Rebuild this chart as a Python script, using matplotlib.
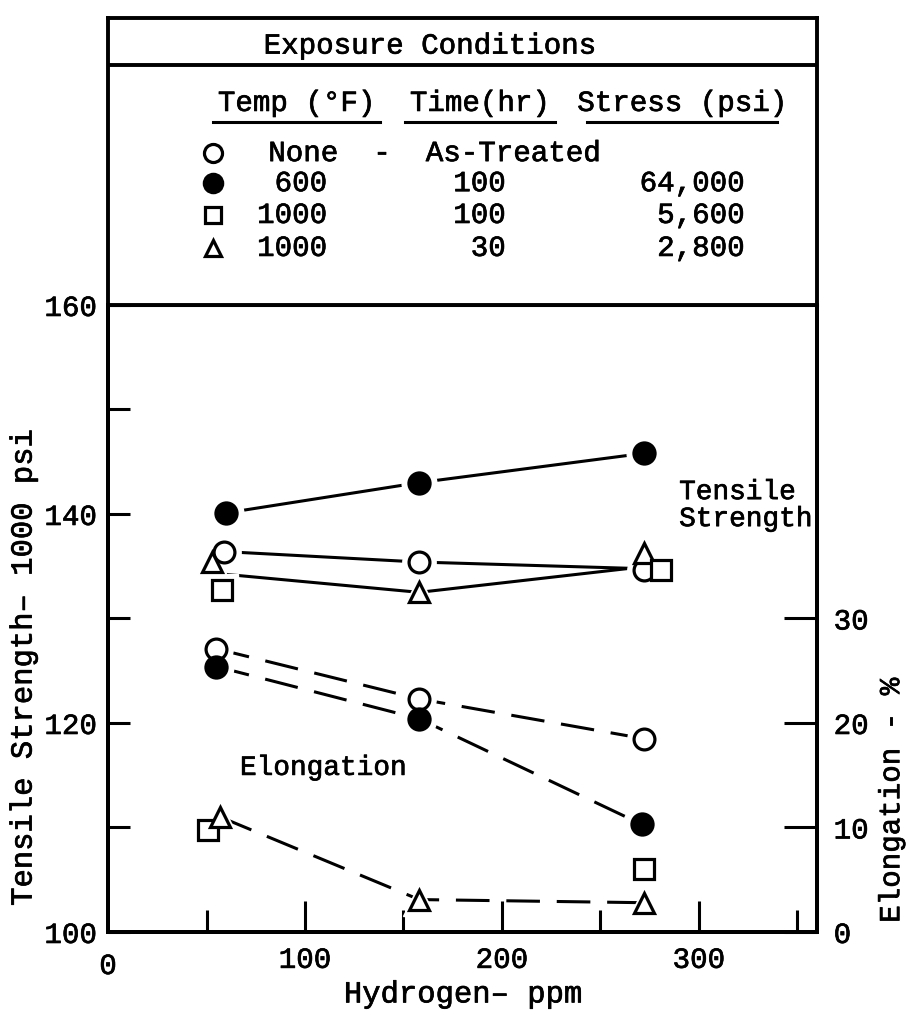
import matplotlib.pyplot as plt
import matplotlib.patheffects as pe
from matplotlib.lines import Line2D
from matplotlib.text import Text

plt.rcParams['font.family'] = ['Liberation Mono', 'DejaVu Sans Mono']

# Tensile strength, 1000 psi, against hydrogen content, ppm
ts_none_h = [59, 158, 272]
ts_none = [136.4, 135.4, 134.6]
ts_600_h = [60, 158, 272]
ts_600 = [140.1, 143.0, 145.8]
ts_1000a_h = [58, 281]
ts_1000a = [132.7, 134.6]
ts_1000b_h = [53, 158, 272]
ts_1000b = [135.4, 132.5, 136.3]

# faired curves through the tensile points
ts_upper_h = [59, 158, 265]
ts_upper = [136.4, 135.4, 134.8]
ts_lower_h = [61, 158, 265]
ts_lower = [134.2, 132.5, 134.8]

# Elongation, percent
el_none_h = [55, 158, 272]
el_none = [27.1, 22.3, 18.5]
el_600_h = [55, 158, 271]
el_600 = [25.4, 20.4, 10.3]
el_1000a_h = [51, 272]
el_1000a = [9.8, 6.0]
el_1000b_h = [57, 158, 272]
el_1000b = [11.0, 3.1, 2.8]

# exposure conditions table
cond_temp = ['600', '1000', '1000']
cond_time = ['100', '100', '30']
cond_stress = ['64,000', '5,600', '2,800']

LW = 2.2
FS = 20
open_c = dict(marker='o', ms=15, mfc='white', mec='black', mew=2.3)
fill_c = dict(marker='o', ms=16, mfc='black', mec='black', mew=1.5)
square = dict(marker='s', ms=14, mfc='white', mec='black', mew=2.3)
tri = dict(marker='^', ms=14, mfc='white', mec='black', mew=2.3)

fig = plt.figure(figsize=(9.11, 10.22), dpi=100)
ax = fig.add_axes([0.1186, 0.0881, 0.7782, 0.6135])
ax2 = ax.twinx()


def pts(a, x, y, style):
    # white halo leaves a small gap where the lines meet the symbol
    a.plot(x, y, ls='none', marker=style['marker'], ms=style['ms'] + 9,
           mfc='white', mec='white', zorder=3)
    a.plot(x, y, ls='none', zorder=4, **style)


dash = (11, 5.5)

ax.plot(ts_600_h, ts_600, color='black', lw=LW, zorder=2)
ax.plot(ts_upper_h, ts_upper, color='black', lw=LW, zorder=2)
ax.plot(ts_lower_h, ts_lower, color='black', lw=LW, zorder=2)
ax.plot(el_none_h, [v + 100 for v in el_none], color='black', lw=LW, dashes=dash, zorder=2)
ax.plot(el_600_h, [v + 100 for v in el_600], color='black', lw=LW, dashes=dash, zorder=2)
ax.plot(el_1000b_h, [v + 100 for v in el_1000b], color='black', lw=LW, dashes=dash, zorder=2)

pts(ax, ts_600_h, ts_600, fill_c)
pts(ax, ts_none_h, ts_none, open_c)
pts(ax, ts_1000b_h, ts_1000b, tri)
pts(ax, ts_1000a_h, ts_1000a, square)

pts(ax2, el_none_h, el_none, open_c)
pts(ax2, el_600_h, el_600, fill_c)
pts(ax2, el_1000a_h, el_1000a, square)
pts(ax2, el_1000b_h, el_1000b, tri)

ax.set_xlim(0, 360)
ax.set_ylim(100, 160)
ax2.set_ylim(0, 60)

ax.set_xticks([100, 200, 300])
ax.set_xticks([50, 150, 250, 350], minor=True)
ax.set_yticks([100, 120, 140, 160])
ax.set_yticks([110, 130, 150], minor=True)
ax2.set_yticks([0, 10, 20, 30])
ax.tick_params(axis='both', which='both', direction='in', width=LW, labelsize=FS + 1, right=False, top=False)
ax.tick_params(axis='x', which='major', length=22, pad=10)
ax.tick_params(axis='x', which='minor', length=16)
ax.tick_params(axis='y', which='both', length=16, pad=8)
ax2.tick_params(axis='y', direction='in', width=LW, length=24, labelsize=FS + 1, pad=12)
ax.text(0, -0.032, '0', transform=ax.transAxes, ha='center', va='top', fontsize=FS + 1)
for a in (ax, ax2):
    for s in a.spines.values():
        s.set_linewidth(2.8)
ax.spines['top'].set_linewidth(2.2)

ax.set_xlabel('Hydrogen\u2013 ppm', fontsize=FS + 2, labelpad=4)
ax.set_ylabel('Tensile Strength\u2013 1000 psi', fontsize=FS + 2)
ax.yaxis.set_label_coords(-0.098, 0.42)
ax2.set_ylabel('Elongation - %', fontsize=FS + 1)
ax2.yaxis.set_label_coords(1.085, 0.21)

ax.text(290, 140.8, 'Tensile\nStrength', fontsize=FS, ha='left', va='center',
        linespacing=1.05, clip_on=False, zorder=5)
ax.text(67, 115.7, 'Elongation', fontsize=FS, ha='left', va='center')

# exposure conditions box above the plot
hdr = fig.add_axes([0.1186, 0.7016, 0.7782, 0.2804])
hdr.set_xlim(0, 1)
hdr.set_ylim(0, 1)
hdr.set_xticks([])
hdr.set_yticks([])
for s in hdr.spines.values():
    s.set_linewidth(2.8)
hdr.add_line(Line2D([0, 1], [0.836, 0.836], color='black', lw=2.8))
hdr.text(0.454, 0.905, 'Exposure Conditions', fontsize=FS + 1, ha='center', va='center')

heads = [('Temp (\u00b0F)', 0.148, 0.384), ('Time(hr)', 0.419, 0.630), ('Stress (psi)', 0.676, 0.944)]
for label, x0, x1 in heads:
    hdr.text((x0 + x1) / 2, 0.705, label, fontsize=FS + 1, ha='center', va='center')
    hdr.add_line(Line2D([x0, x1], [0.638, 0.638], color='black', lw=2.2))

rows_y = [0.425, 0.314, 0.199]
hdr.plot([0.148], [0.530], ls='none', **dict(open_c, ms=13))
hdr.text(0.226, 0.530, 'None  -  As-Treated', fontsize=FS + 1, ha='left', va='center')
for y, st, t, tm, sp in zip(rows_y, [fill_c, square, tri], cond_temp, cond_time, cond_stress):
    hdr.plot([0.148], [y], ls='none', **dict(st, ms=st['ms'] - 2))
    hdr.text(0.309, y, t, fontsize=FS + 1, ha='right', va='center')
    hdr.text(0.561, y, tm, fontsize=FS + 1, ha='right', va='center')
    hdr.text(0.898, y, sp, fontsize=FS + 1, ha='right', va='center')

# heavier typewriter-like strokes on all lettering
for t in fig.findobj(Text):
    t.set_path_effects([pe.withStroke(linewidth=0.5, foreground='black')])

fig.savefig('out.png', dpi=100)
